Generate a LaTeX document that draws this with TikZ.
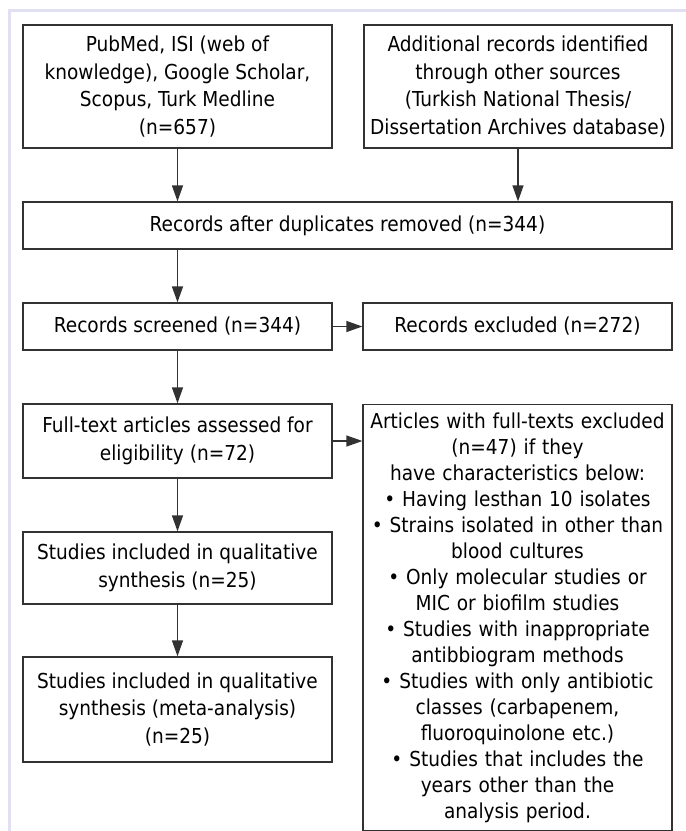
\documentclass[tikz,border=0pt]{standalone}
\usepackage{fontspec}
\setmainfont{DejaVu Sans Condensed}
\usetikzlibrary{arrows.meta}
\definecolor{lavframe}{RGB}{224,224,242}
\definecolor{edgegray}{RGB}{50,50,50}
\begin{document}
\begin{tikzpicture}[x=1pt,y=-1pt,
  box/.style={draw=edgegray, line width=1.3pt, fill=white, align=center, inner sep=0pt,
    font=\fontsize{20.6}{27.5}\selectfont},
  arr/.style={-{Triangle[length=16pt,width=11pt]}, line width=1.3pt, draw=edgegray}]
\useasboundingbox (0,0) rectangle (686,831);
\clip (0,0) rectangle (686,831);
\fill[white] (0,0) rectangle (686,831);
\draw[lavframe, line width=3pt] (686,10) -- (9,10) -- (9,831);

\node[box, minimum width=309pt, minimum height=123pt] (A) at (177.5,86.5)
  {PubMed, ISI (web of\\knowledge), Google Scholar,\\Scopus, Turk Medline\\(n=657)};
\node[box, minimum width=308pt, minimum height=123pt] (B) at (518,86.5)
  {Additional records identified\\through other sources\\(Turkish National Thesis/\\Dissertation Archives database)};
\node[box, minimum width=649pt, minimum height=47pt] (C) at (347.5,225.5)
  {Records after duplicates removed (n=344)};
\node[box, minimum width=309pt, minimum height=47pt] (D) at (177.5,326.5)
  {Records screened (n=344)};
\node[box, minimum width=309pt, minimum height=47pt] (G) at (517.5,326.5)
  {Records excluded (n=272)};
\node[box, minimum width=309pt, minimum height=74pt] (E) at (177.5,441)
  {Full-text articles assessed for\\eligibility (n=72)};
\node[box, minimum width=309pt, minimum height=72pt] (H) at (177.5,568)
  {Studies included in qualitative\\synthesis (n=25)};
\node[box, minimum width=309pt, minimum height=105pt] (I) at (177.5,709.5)
  {Studies included in qualitative\\synthesis (meta-analysis)\\(n=25)};
\node[box, anchor=north, text width=305pt, inner xsep=2pt, inner ysep=8pt,
  font=\fontsize{20.6}{26}\selectfont] (F) at (517.5,404)
  {Articles with full-texts excluded\\(n=47) if they\\have characteristics below:\\%
   • Having lesthan 10 isolates\\• Strains isolated in other than\\blood cultures\\%
   • Only molecular studies or\\MIC or biofilm studies\\• Studies with inappropriate\\%
   antibbiogram methods\\• Studies with only antibiotic\\classes (carbapenem,\\%
   fluoroquinolone etc.)\\• Studies that includes the\\years other than the\\analysis period.\\[60pt]};

\draw[arr] (A.south) -- (A.south |- C.north);
\draw[arr] (B.south) -- (B.south |- C.north);
\draw[arr] (C.south -| D.north) -- (D.north);
\draw[arr] (D.east) -- (G.west);
\draw[arr] (D.south) -- (E.north);
\draw[arr] (E.east) -- (E.east -| F.west);
\draw[arr] (E.south) -- (H.north);
\draw[arr] (H.south) -- (I.north);
\end{tikzpicture}
\end{document}
